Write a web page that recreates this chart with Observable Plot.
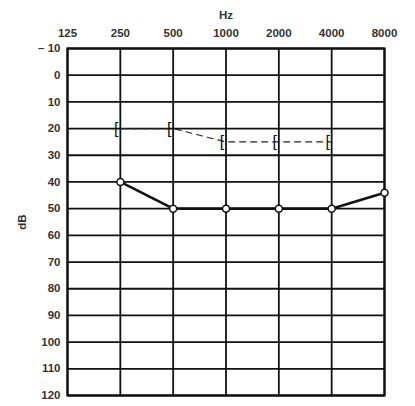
<!DOCTYPE html>
<html><head><meta charset="utf-8">
<script src="https://cdn.jsdelivr.net/npm/d3@7"></script>
<script src="https://cdn.jsdelivr.net/npm/@observablehq/plot@0.6"></script>
<style>body{margin:0;background:#fff}svg{display:block}</style>
</head><body><div id="chart"></div>
<script>
const freqs = [125, 250, 500, 1000, 2000, 4000, 8000];
const dbTicks = [-10, 0, 10, 20, 30, 40, 50, 60, 70, 80, 90, 100, 110, 120];
const airFreq = [250, 500, 1000, 2000, 4000, 8000];
const airDb = [40, 50, 50, 50, 50, 44];
const boneFreq = [250, 500, 1000, 2000, 4000];
const boneDb = [20, 20, 25, 25, 25];

const air = airFreq.map((f, i) => ({f, db: airDb[i]}));
const bone = boneFreq.map((f, i) => ({f, db: boneDb[i]}));

const chart = Plot.plot({
  width: 415, height: 406,
  marginLeft: 67, marginRight: 31, marginTop: 48, marginBottom: 11,
  style: {fontFamily: "Liberation Sans, Arial, sans-serif", fontSize: "11.5px", fontWeight: "bold", color: "#333"},
  x: {type: "log", base: 2, domain: [125, 8000]},
  y: {domain: [-10, 120], reverse: true},
  marks: [
    Plot.gridX(freqs, {stroke: "#111", strokeOpacity: 1, strokeWidth: 1.8}),
    Plot.gridY(dbTicks, {stroke: "#111", strokeOpacity: 1, strokeWidth: 1.8}),
    Plot.frame({stroke: "#111", strokeWidth: 2.2}),
    Plot.axisX(freqs, {anchor: "top", tickSize: 0, tickPadding: 12, tickFormat: d => String(d),
      label: "Hz", labelAnchor: "center", labelArrow: "none", labelOffset: 38}),
    Plot.axisY(dbTicks, {anchor: "left", tickSize: 0, tickPadding: 7,
      tickFormat: d => d < 0 ? "\u2013 10" : String(d),
      label: "dB", labelAnchor: "center", labelArrow: "none", labelOffset: 50}),
    Plot.line(bone, {x: "f", y: "db", stroke: "#222", strokeWidth: 1.1, strokeDasharray: "6,5"}),
    Plot.text(bone, {x: "f", y: "db", text: () => "[", dx: -4, fontSize: 16, fontWeight: "normal", fill: "#111"}),
    Plot.line(air, {x: "f", y: "db", stroke: "#111", strokeWidth: 2.6}),
    Plot.dot(air, {x: "f", y: "db", r: 3.5, fill: "white", stroke: "#111", strokeWidth: 1.5})
  ]
});
document.getElementById("chart").append(chart);
</script>
</body></html>
